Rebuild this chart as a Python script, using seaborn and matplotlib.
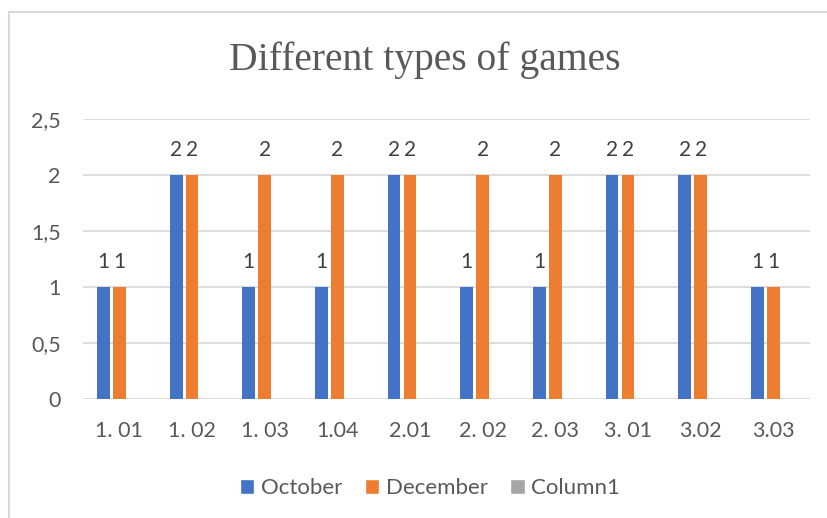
import pandas as pd
import matplotlib
matplotlib.use("Agg")
import matplotlib.pyplot as plt
import seaborn as sns
from matplotlib.patches import Patch, Rectangle
from matplotlib.ticker import FuncFormatter

kategorier = ["1. 01", "1. 02", "1. 03", "1.04", "2.01", "2. 02", "2. 03", "3. 01", "3.02", "3.03"]
october = [1, 2, 1, 1, 2, 1, 1, 2, 2, 1]
december = [1, 2, 2, 2, 2, 2, 2, 2, 2, 1]
column1 = [0, 0, 0, 0, 0, 0, 0, 0, 0, 0]
serier = ["October", "December", "Column1"]
farger = ["#4472C4", "#ED7D31", "#A5A5A5"]
y_ticks = [0, 0.5, 1, 1.5, 2, 2.5]

# long form for seaborn
dados = pd.DataFrame({
    "kategori": kategorier * 3,
    "valor": october + december + column1,
    "serie": ["October"] * 10 + ["December"] * 10 + ["Column1"] * 10,
})

sns.set_style("white")
plt.rcParams["font.family"] = ["Lato", "DejaVu Sans"]

fig = plt.figure(figsize=(8.27, 5.18), dpi=100)
ax = fig.add_axes([0.1004, 0.2297, 0.8786, 0.5405])

sns.barplot(data=dados, x="kategori", y="valor", hue="serie", hue_order=serier,
            order=kategorier, palette=farger, saturation=1, width=0.66, gap=0.19,
            errorbar=None, linewidth=0, legend=False, ax=ax)

# data labels for the two filled series
for cont in ax.containers[:2]:
    ax.bar_label(cont, fmt="%g", padding=11, fontsize=15, color="#404040")

ax.set_ylim(0, 2.5)
ax.set_xlim(-0.5, len(kategorier) - 0.5)
ax.set_yticks(y_ticks)
ax.yaxis.set_major_formatter(FuncFormatter(lambda v, p: f"{v:g}".replace(".", ",")))
ax.yaxis.grid(True, color="#d9d9d9", linewidth=1.3)
ax.set_axisbelow(True)
ax.tick_params(axis="both", length=0, labelsize=15.5, labelcolor="#595959")
ax.tick_params(axis="x", pad=16)
ax.tick_params(axis="y", pad=16)
ax.set_xlabel("")
ax.set_ylabel("")
sns.despine(ax=ax, left=True, bottom=True)

fig.suptitle("Different types of games", x=0.514, y=0.884, va="center", fontsize=28.5,
             family="Liberation Serif", color="#595959")

handles = [Patch(facecolor=c, label=s) for s, c in zip(serier, farger)]
fig.legend(handles=handles, loc="center", bbox_to_anchor=(0.52, 0.058), ncol=3,
           frameon=False, fontsize=16, labelcolor="#595959", handlelength=0.65,
           handleheight=0.65, handletextpad=0.3, columnspacing=1.0)

# chart border (screenshot crop)
fig.add_artist(Rectangle((9 / 827, -0.1), 1.2, 1.1 - 12 / 518, transform=fig.transFigure,
                         fill=False, edgecolor="#d9d9d9", linewidth=1.5, clip_on=False))

fig.savefig("out.png", dpi=100)
